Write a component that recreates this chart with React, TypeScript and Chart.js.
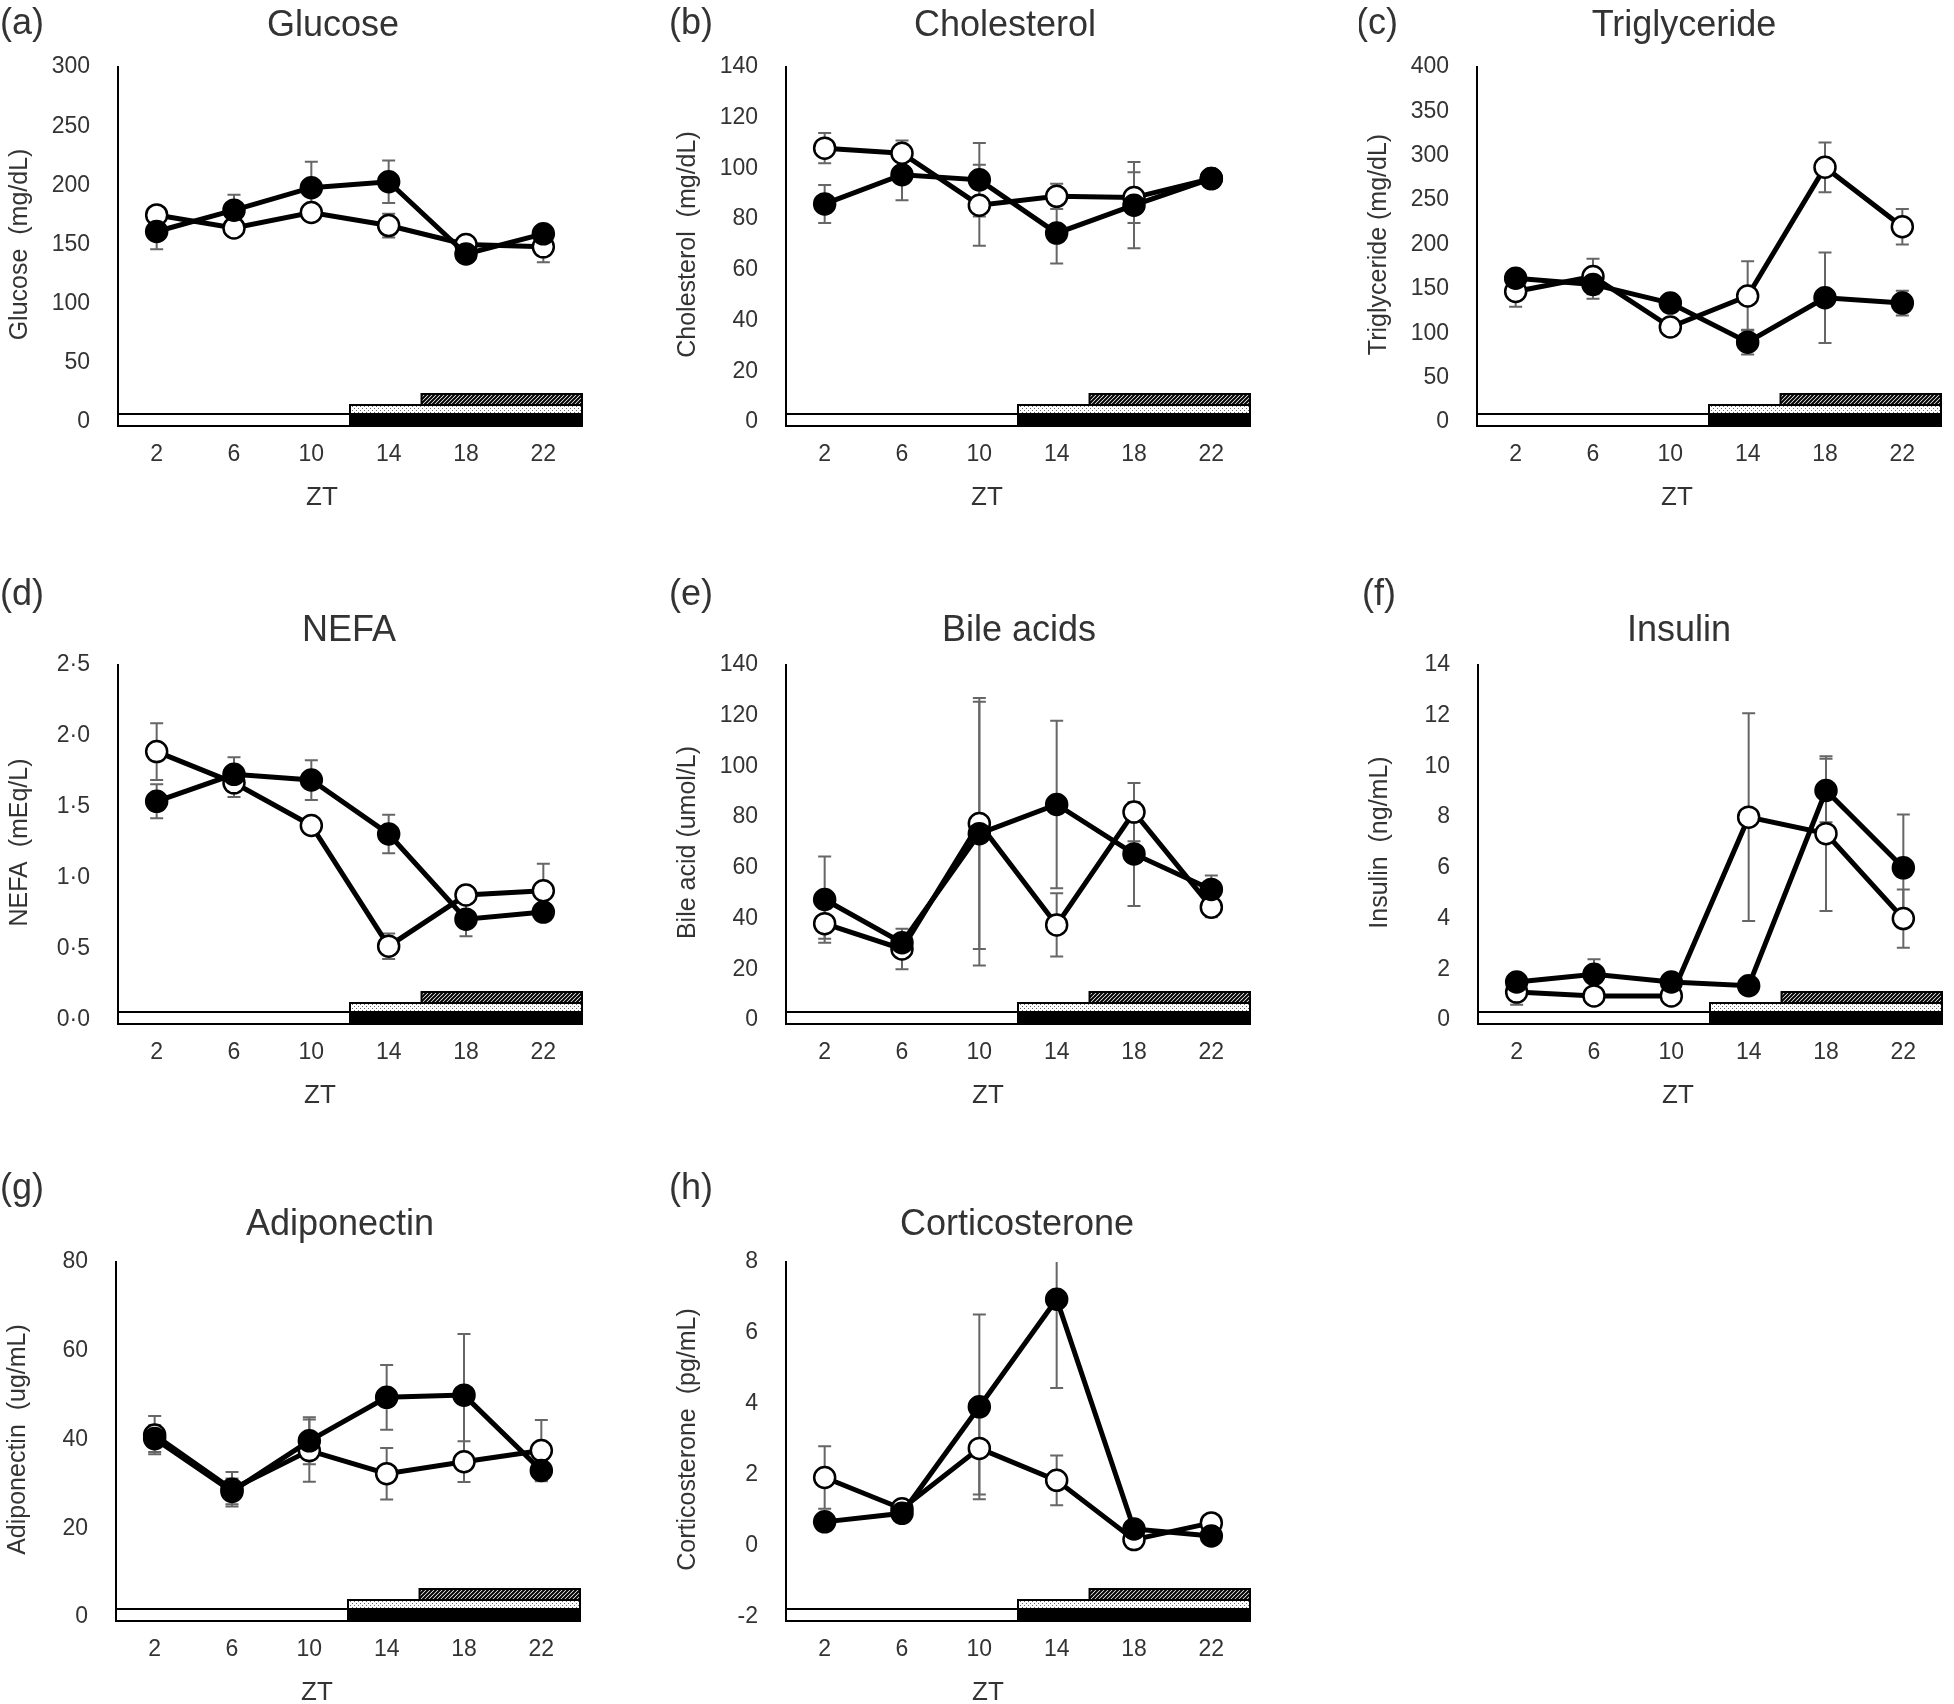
import React, { useEffect, useRef } from 'react';
import { Chart, registerables } from 'chart.js';

Chart.register(...registerables);

// Sampling times (Zeitgeber time, h)
const ZT = [2, 6, 10, 14, 18, 22];

// Light / dark and feeding schedule boundaries on the ZT axis
const LIGHT_START = 0;
const DARK_START = 12;
const FEED_START = 15.7;
const DAY_END = 24;

// (a) Glucose, mg/dL
const glucoseOpen = [175, 164, 177, 166, 150, 148];
const glucoseOpenSem = [5, 5, 5, 10, 5, 13];
const glucoseFilled = [161, 179, 198, 203, 142, 159];
const glucoseFilledSem = [15, 13, 22, 18, 5, 6];

// (b) Cholesterol, mg/dL
const cholOpen = [108, 106, 85.5, 89, 88.5, 96];
const cholOpenSem = [6, 5, 16, 5, 10, 2];
const cholFilled = [86, 97.5, 95.5, 74.5, 85.5, 96];
const cholFilledSem = [7.5, 10, 14.5, 12, 17, 2];

// (c) Triglyceride, mg/dL
const tgOpen = [147, 164, 107, 142, 287, 220];
const tgOpenSem = [17, 20, 10, 39, 28, 20];
const tgFilled = [162, 155, 134, 90, 140, 134];
const tgFilledSem = [8, 16, 10, 14, 51, 14];

// (d) NEFA, mEq/L
const nefaOpen = [1.89, 1.67, 1.37, 0.52, 0.88, 0.91];
const nefaOpenSem = [0.2, 0.1, 0.05, 0.09, 0.05, 0.19];
const nefaFilled = [1.54, 1.73, 1.69, 1.31, 0.71, 0.76];
const nefaFilledSem = [0.12, 0.12, 0.14, 0.135, 0.12, 0.05];

// (e) Bile acids, umol/L
const bileOpen = [38, 28, 77.5, 37.5, 82, 44.5];
const bileOpenSem = [6, 8, 49.5, 12.5, 11.5, 4];
const bileFilled = [47.5, 30.5, 73.5, 85, 65.5, 51.5];
const bileFilledSem = [17, 3, 52, 33, 20.5, 5.5];

// (f) Insulin, ng/mL
const insulinOpen = [1.1, 0.95, 0.95, 8.0, 7.35, 4.0];
const insulinOpenSem = [0.5, 0.2, 0.2, 4.1, 3.05, 1.15];
const insulinFilled = [1.5, 1.8, 1.5, 1.35, 9.05, 6.0];
const insulinFilledSem = [0.3, 0.6, 0.2, 0.2, 1.25, 2.1];

// (g) Adiponectin, ug/mL
const adipoOpen = [41, 28.8, 37.5, 32.3, 35, 37.5];
const adipoOpenSem = [4.3, 3.9, 7, 5.8, 4.6, 6.9];
const adipoFilled = [40.2, 28.3, 39.7, 49.5, 50, 33];
const adipoFilledSem = [3, 2.9, 5.3, 7.3, 13.8, 2.2];

// (h) Corticosterone, pg/mL
const corticoOpen = [1.93, 1.05, 2.75, 1.85, 0.18, 0.65];
const corticoOpenSem = [0.88, 0.1, 1.3, 0.7, 0.1, 0.1];
const corticoFilled = [0.68, 0.92, 3.92, 6.95, 0.48, 0.28];
const corticoFilledSem = [0.1, 0.1, 2.6, 2.5, 0.1, 0.1];

const panelLetters = ['(a)', '(b)', '(c)', '(d)', '(e)', '(f)', '(g)', '(h)'];
const panelTitles = ['Glucose', 'Cholesterol', 'Triglyceride', 'NEFA', 'Bile acids', 'Insulin', 'Adiponectin', 'Corticosterone'];
const axisTitles = [
  'Glucose  (mg/dL)',
  'Cholesterol  (mg/dL)',
  'Triglyceride (mg/dL)',
  'NEFA  (mEq/L)',
  'Bile acid (umol/L)',
  'Insulin  (ng/mL)',
  'Adiponectin  (ug/mL)',
  'Corticosterone  (pg/mL)',
];
// y-axis ranges: [min, max, step]
const yRanges: [number, number, number][] = [
  [0, 300, 50],
  [0, 140, 20],
  [0, 400, 50],
  [0, 2.5, 0.5],
  [0, 140, 20],
  [0, 14, 2],
  [0, 80, 20],
  [-2, 8, 2],
];

type Panel = {
  letter: string;
  title: string;
  yTitle: string;
  range: [number, number, number];
  open: number[];
  openSem: number[];
  filled: number[];
  filledSem: number[];
  dotDecimal?: boolean;
};

const seriesSets = [
  [glucoseOpen, glucoseOpenSem, glucoseFilled, glucoseFilledSem],
  [cholOpen, cholOpenSem, cholFilled, cholFilledSem],
  [tgOpen, tgOpenSem, tgFilled, tgFilledSem],
  [nefaOpen, nefaOpenSem, nefaFilled, nefaFilledSem],
  [bileOpen, bileOpenSem, bileFilled, bileFilledSem],
  [insulinOpen, insulinOpenSem, insulinFilled, insulinFilledSem],
  [adipoOpen, adipoOpenSem, adipoFilled, adipoFilledSem],
  [corticoOpen, corticoOpenSem, corticoFilled, corticoFilledSem],
];

const PANELS: Panel[] = seriesSets.map((s, i) => ({
  letter: panelLetters[i],
  title: panelTitles[i],
  yTitle: axisTitles[i],
  range: yRanges[i],
  open: s[0],
  openSem: s[1],
  filled: s[2],
  filledSem: s[3],
  dotDecimal: i === 3,
}));

// Page placement of each panel (page pixels)
const LAYOUT = [
  { axisX: 118, top: 67, letterX: 0, letterY: 24, titleX: 333, titleY: 26, ztX: 322 },
  { axisX: 786, top: 67, letterX: 669, letterY: 24, titleX: 1005, titleY: 26, ztX: 987 },
  { axisX: 1477, top: 67, letterX: 1356, letterY: 24, titleX: 1684, titleY: 26, ztX: 1677 },
  { axisX: 118, top: 665, letterX: 0, letterY: 595, titleX: 349, titleY: 631, ztX: 320 },
  { axisX: 786, top: 665, letterX: 669, letterY: 595, titleX: 1019, titleY: 631, ztX: 988 },
  { axisX: 1478, top: 665, letterX: 1362, letterY: 595, titleX: 1679, titleY: 631, ztX: 1678 },
  { axisX: 116, top: 1262, letterX: 0, letterY: 1189, titleX: 340, titleY: 1225, ztX: 317 },
  { axisX: 786, top: 1262, letterX: 669, letterY: 1189, titleX: 1017, titleY: 1225, ztX: 988 },
];

const FONT = '"Liberation Sans", Arial, Helvetica, sans-serif';
const TEXT = '#333333';
const CANVAS_W = 595;
const CANVAS_H = 555;
const PAD_TOP = 110;
const PLOT_LEFT = 118;
const X_AXIS_H = 90;

let dotPattern: CanvasPattern | null = null;
let hatchPattern: CanvasPattern | null = null;

function patterns(ctx: CanvasRenderingContext2D) {
  if (!dotPattern) {
    const c = document.createElement('canvas');
    c.width = 4;
    c.height = 4;
    const g = c.getContext('2d')!;
    g.fillStyle = '#fff';
    g.fillRect(0, 0, 4, 4);
    g.fillStyle = '#6a6a6a';
    g.fillRect(0, 1, 1, 1);
    g.fillRect(2, 3, 1, 1);
    dotPattern = ctx.createPattern(c, 'repeat');
  }
  if (!hatchPattern) {
    const c = document.createElement('canvas');
    c.width = 4;
    c.height = 4;
    const g = c.getContext('2d')!;
    g.fillStyle = '#fff';
    g.fillRect(0, 0, 4, 4);
    g.strokeStyle = '#000';
    g.lineWidth = 2;
    g.beginPath();
    g.moveTo(-1, 5);
    g.lineTo(5, -1);
    g.moveTo(-5, 5);
    g.lineTo(1, -1);
    g.moveTo(3, 5);
    g.lineTo(9, -1);
    g.stroke();
    hatchPattern = ctx.createPattern(c, 'repeat');
  }
  return { dot: dotPattern!, hatch: hatchPattern! };
}

function makeDecor(panel: Panel, lay: (typeof LAYOUT)[number], left: number, top: number) {
  return {
    id: 'panelDecor',
    beforeDatasetsDraw(chart: any) {
      const { ctx, chartArea } = chart;
      const xs = chart.scales.x;
      const ys = chart.scales.y;
      ctx.save();
      ctx.beginPath();
      ctx.rect(chartArea.left - 20, chartArea.top, chartArea.right - chartArea.left + 40, chartArea.bottom - chartArea.top);
      ctx.clip();
      ctx.strokeStyle = '#666';
      ctx.lineWidth = 2;
      chart.data.datasets.forEach((ds: any) => {
        const sem: number[] = ds.sem;
        ds.data.forEach((p: any, j: number) => {
          const x = xs.getPixelForValue(p.x);
          const y1 = ys.getPixelForValue(p.y + sem[j]);
          const y2 = ys.getPixelForValue(p.y - sem[j]);
          ctx.beginPath();
          ctx.moveTo(x, y1);
          ctx.lineTo(x, y2);
          ctx.moveTo(x - 6.5, y1);
          ctx.lineTo(x + 6.5, y1);
          ctx.moveTo(x - 6.5, y2);
          ctx.lineTo(x + 6.5, y2);
          ctx.stroke();
        });
      });
      ctx.restore();
    },
    afterDatasetsDraw(chart: any) {
      const { ctx, chartArea } = chart;
      const xs = chart.scales.x;
      const b = chartArea.bottom;
      const p = patterns(ctx);
      const x0 = xs.getPixelForValue(LIGHT_START);
      const xd = xs.getPixelForValue(DARK_START);
      const xf = xs.getPixelForValue(FEED_START);
      const xe = xs.getPixelForValue(DAY_END);
      ctx.save();
      ctx.lineWidth = 2;
      ctx.strokeStyle = '#000';
      // light phase
      ctx.fillStyle = '#fff';
      ctx.fillRect(x0, b - 8, xd - x0, 12);
      ctx.strokeRect(x0, b - 8, xd - x0, 12);
      // dark phase
      ctx.fillStyle = '#000';
      ctx.fillRect(xd, b - 8, xe - xd, 12);
      ctx.strokeRect(xd, b - 8, xe - xd, 12);
      // dotted band
      ctx.fillStyle = p.dot;
      ctx.fillRect(xd, b - 17, xe - xd, 9);
      ctx.strokeRect(xd, b - 17, xe - xd, 9);
      // hatched band
      ctx.fillStyle = p.hatch;
      ctx.fillRect(xf, b - 28, xe - xf, 11);
      ctx.strokeRect(xf, b - 28, xe - xf, 11);
      ctx.restore();
    },
    afterDraw(chart: any) {
      const { ctx } = chart;
      ctx.save();
      ctx.fillStyle = TEXT;
      ctx.textBaseline = 'middle';
      ctx.font = `36px ${FONT}`;
      ctx.textAlign = 'left';
      ctx.fillText(panel.letter, lay.letterX - left, lay.letterY - top);
      ctx.textAlign = 'center';
      ctx.fillText(panel.title, lay.titleX - left, lay.titleY - top);
      ctx.font = `26px ${FONT}`;
      ctx.fillText('ZT', lay.ztX - left, chart.chartArea.bottom + 76);
      ctx.restore();
    },
  };
}

function PanelChart({ panel, lay }: { panel: Panel; lay: (typeof LAYOUT)[number] }) {
  const ref = useRef<HTMLCanvasElement | null>(null);
  const left = lay.axisX - PLOT_LEFT;
  const top = lay.top - PAD_TOP;

  useEffect(() => {
    if (!ref.current) return;
    const [yMin, yMax, yStep] = panel.range;
    const chart = new Chart(ref.current, {
      type: 'line',
      data: {
        datasets: [
          {
            label: 'filled',
            data: ZT.map((x, i) => ({ x, y: panel.filled[i] })),
            sem: panel.filledSem,
            borderColor: '#000',
            borderWidth: 5,
            pointRadius: 10.5,
            pointBackgroundColor: '#000',
            pointBorderColor: '#000',
            pointBorderWidth: 2.5,
            tension: 0,
          } as any,
          {
            label: 'open',
            data: ZT.map((x, i) => ({ x, y: panel.open[i] })),
            sem: panel.openSem,
            borderColor: '#000',
            borderWidth: 5,
            pointRadius: 10.5,
            pointBackgroundColor: '#fff',
            pointBorderColor: '#000',
            pointBorderWidth: 2.5,
            tension: 0,
          } as any,
        ],
      },
      options: {
        animation: false,
        responsive: false,
        layout: { padding: { left: 0, top: PAD_TOP, right: CANVAS_W - PLOT_LEFT - 472, bottom: 0 } },
        plugins: { legend: { display: false }, tooltip: { enabled: false } },
        scales: {
          x: {
            type: 'linear',
            min: 0,
            max: 24,
            afterBuildTicks: (s: any) => {
              s.ticks = ZT.map((v) => ({ value: v }));
            },
            afterFit: (s: any) => {
              s.height = X_AXIS_H;
            },
            grid: { display: false, drawTicks: false },
            border: { display: true, color: '#000', width: 2 },
            ticks: { padding: 19, color: TEXT, font: { size: 23, family: FONT }, maxRotation: 0, autoSkip: false },
          },
          y: {
            type: 'linear',
            min: yMin,
            max: yMax,
            afterFit: (s: any) => {
              s.width = PLOT_LEFT;
            },
            grid: { display: false, drawTicks: false },
            border: { display: true, color: '#000', width: 2 },
            ticks: {
              stepSize: yStep,
              padding: 28,
              color: TEXT,
              font: { size: 23, family: FONT },
              callback: (v: any) => (panel.dotDecimal ? Number(v).toFixed(1).replace('.', '\u00b7') : String(v)),
            },
            title: {
              display: true,
              text: panel.yTitle,
              color: TEXT,
              font: { size: 25, family: FONT },
              padding: { top: 5, bottom: 0 },
            },
          },
        },
      },
      plugins: [makeDecor(panel, lay, left, top)],
    });
    return () => chart.destroy();
  }, [panel, lay, left, top]);

  return (
    <canvas
      ref={ref}
      width={CANVAS_W}
      height={CANVAS_H}
      style={{ position: 'absolute', left, top, width: CANVAS_W, height: CANVAS_H }}
    />
  );
}

export default function App() {
  return (
    <div
      style={{
        position: 'absolute',
        left: 0,
        top: 0,
        width: 1954,
        height: 1704,
        overflow: 'hidden',
        background: '#fff',
      }}
    >
      {PANELS.map((p, i) => (
        <PanelChart key={p.letter} panel={p} lay={LAYOUT[i]} />
      ))}
    </div>
  );
}
